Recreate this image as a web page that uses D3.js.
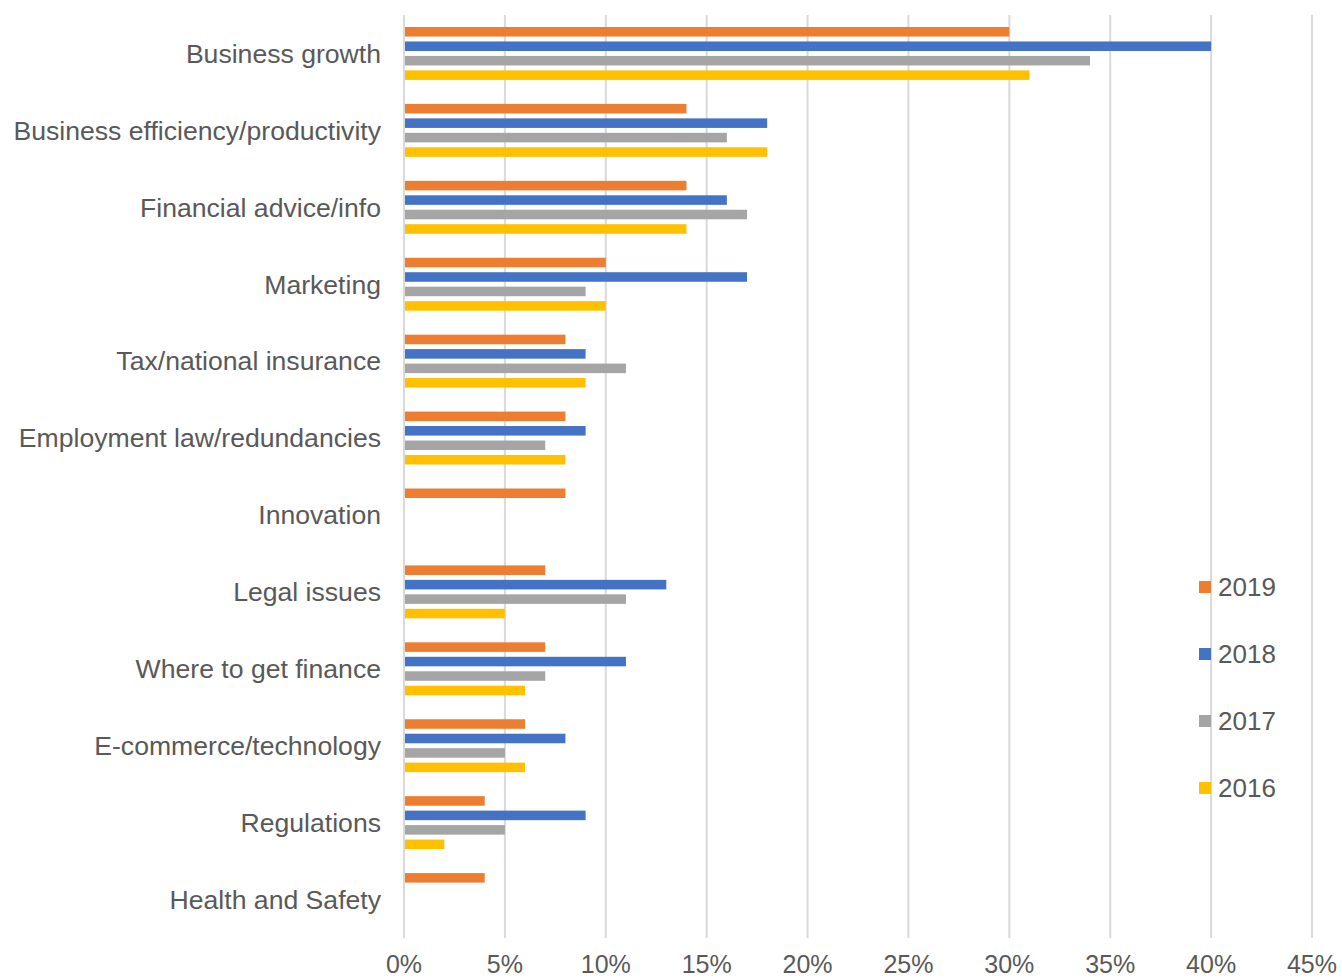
<!DOCTYPE html>
<html>
<head>
<meta charset="utf-8">
<script src="https://cdn.jsdelivr.net/npm/d3@7"></script>
<style>
  body { margin: 0; background: #fff; }
  text { font-family: "Liberation Sans", Arial, sans-serif; fill: #595959; }
</style>
</head>
<body>
<svg id="chart" width="1342" height="980"></svg>
<script>
const categories = ["Business growth", "Business efficiency/productivity", "Financial advice/info",
  "Marketing", "Tax/national insurance", "Employment law/redundancies", "Innovation",
  "Legal issues", "Where to get finance", "E-commerce/technology", "Regulations", "Health and Safety"];
const years = ["2019", "2018", "2017", "2016"];
const colors = ["#ED7D31", "#4472C4", "#A5A5A5", "#FFC000"];
const v2019 = [30, 14, 14, 10, 8, 8, 8, 7, 7, 6, 4, 4];
const v2018 = [40, 18, 16, 17, 9, 9, null, 13, 11, 8, 9, null];
const v2017 = [34, 16, 17, 9, 11, 7, null, 11, 7, 5, 5, null];
const v2016 = [31, 18, 14, 10, 9, 8, null, 5, 6, 6, 2, null];
const xTicks = [0, 5, 10, 15, 20, 25, 30, 35, 40, 45];

const series = [v2019, v2018, v2017, v2016];
const svg = d3.select('#chart');

let x = d3.scaleLinear().domain([0, 45]).range([404, 1312]);
let y = d3.scaleBand().domain(categories).range([15, 938]);
let y1 = d3.scaleBand().domain(years).range([12, y.bandwidth() - 12]).paddingInner(0.34);
let color = d3.scaleOrdinal().domain(years).range(colors);

// gridlines
svg.append('g').selectAll('line').data(xTicks).join('line')
  .attr('x1', d => x(d)).attr('x2', d => x(d))
  .attr('y1', 15).attr('y2', 938)
  .attr('stroke', '#D9D9D9').attr('stroke-width', 2);

// bars
let rows = [];
categories.forEach((c, i) => {
  years.forEach((yr, j) => {
    if (series[j][i] != null) rows.push({cat: c, year: yr, value: series[j][i]});
  });
});
svg.append('g').selectAll('rect').data(rows).join('rect')
  .attr('x', x(0) + 1)
  .attr('y', d => y(d.cat) + y1(d.year))
  .attr('width', d => x(d.value) - x(0) - 1)
  .attr('height', y1.bandwidth())
  .attr('fill', d => color(d.year));

// category labels
svg.append('g').selectAll('text').data(categories).join('text')
  .attr('x', 381)
  .attr('y', d => y(d) + y.bandwidth() / 2)
  .attr('dy', '0.35em')
  .attr('text-anchor', 'end')
  .style('font-size', '26.6px')
  .text(d => d);

// x axis labels (kept just inside the bottom edge)
svg.append('g').selectAll('text').data(xTicks).join('text')
  .attr('x', d => x(d))
  .attr('y', 973)
  .attr('text-anchor', 'middle')
  .style('font-size', '25px')
  .text(d => d + '%');

// legend
let legend = svg.append('g').selectAll('g').data(years).join('g')
  .attr('transform', (d, i) => `translate(1199, ${587 + i * 67})`);
legend.append('rect').attr('x', 0).attr('y', -6).attr('width', 12).attr('height', 12)
  .attr('fill', d => color(d));
legend.append('text').attr('x', 19).attr('dy', '0.35em')
  .style('font-size', '26px').text(d => d);
</script>
</body>
</html>
